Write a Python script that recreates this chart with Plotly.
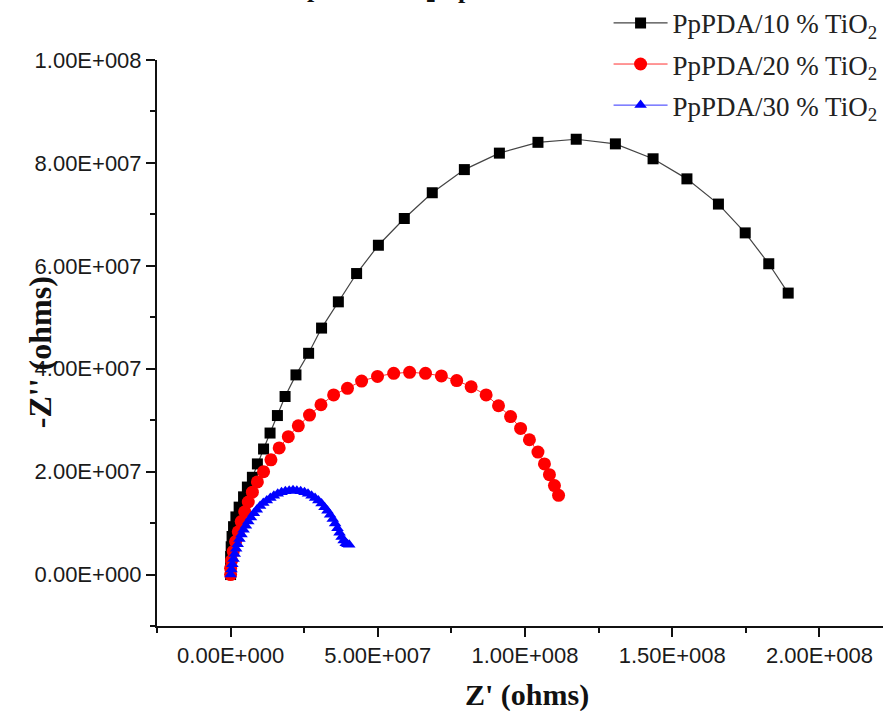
import plotly.graph_objects as go

# ---- data (values in ohms) ----
s10_x = [0.0, 0.0, 0.0, 0.02, 0.05, 0.10, 0.18, 0.29, 0.44, 0.57, 0.74, 0.91, 1.12, 1.34, 1.59,
         1.85, 2.22, 2.65, 3.09, 3.66, 4.28, 5.02, 5.90, 6.85, 7.94, 9.13, 10.44, 11.74,
         13.07, 14.35, 15.50, 16.57, 17.48, 18.28, 18.94]
s10_y = [0.0, 0.17, 0.35, 0.54, 0.74, 0.93, 1.12, 1.31, 1.51, 1.70, 1.89, 2.15, 2.44, 2.75, 3.09,
         3.46, 3.88, 4.30, 4.79, 5.30, 5.85, 6.40, 6.92, 7.42, 7.87, 8.19, 8.40, 8.46,
         8.37, 8.08, 7.69, 7.20, 6.64, 6.04, 5.47]

s20_x = [0.0, 0.0, 0.03, 0.09, 0.17, 0.26, 0.36, 0.48, 0.60, 0.74, 0.91, 1.12, 1.37, 1.65, 1.96,
         2.30, 2.68, 3.07, 3.50, 3.97, 4.45, 4.99, 5.54, 6.08, 6.62, 7.16, 7.68, 8.17, 8.68,
         9.10, 9.51, 9.85, 10.15, 10.44, 10.66, 10.83, 11.00, 11.14]
s20_y = [0.0, 0.12, 0.27, 0.45, 0.64, 0.83, 1.03, 1.22, 1.41, 1.60, 1.80, 2.00, 2.23, 2.46, 2.68,
         2.89, 3.10, 3.30, 3.49, 3.62, 3.76, 3.85, 3.91, 3.93, 3.91, 3.86, 3.77, 3.65, 3.49,
         3.28, 3.07, 2.84, 2.62, 2.38, 2.15, 1.94, 1.73, 1.54]

s30_x = [0.00, 0.03, 0.06, 0.10, 0.14, 0.19, 0.24, 0.30, 0.37, 0.44, 0.52, 0.60, 0.69, 0.79,
         0.89, 1.00, 1.11, 1.23, 1.35, 1.47, 1.60, 1.73, 1.86, 1.99, 2.12, 2.25, 2.38, 2.51,
         2.63, 2.75, 2.87, 2.98, 3.09, 3.19, 3.29, 3.38, 3.47, 3.55, 3.63, 3.70, 3.77, 3.84,
         3.91, 3.97, 4.03]
s30_y = [0.00, 0.10, 0.20, 0.30, 0.40, 0.50, 0.59, 0.69, 0.78, 0.87, 0.95, 1.03, 1.11, 1.19,
         1.26, 1.33, 1.39, 1.44, 1.49, 1.53, 1.57, 1.60, 1.62, 1.63, 1.64, 1.63, 1.62, 1.60,
         1.57, 1.53, 1.49, 1.44, 1.38, 1.31, 1.24, 1.16, 1.08, 0.99, 0.90, 0.81, 0.73, 0.66,
         0.61, 0.59, 0.58]

UNIT = 1e7  # values above are in units of 1E+007 ohms

x_tickvals = [0, 5e7, 1e8, 1.5e8, 2e8]
x_ticktext = ["0.00E+000", "5.00E+007", "1.00E+008", "1.50E+008", "2.00E+008"]
y_tickvals = [0, 2e7, 4e7, 6e7, 8e7, 1e8]
y_ticktext = ["0.00E+000", "2.00E+007", "4.00E+007", "6.00E+007", "8.00E+007", "1.00E+008"]

names = ["PpPDA/10 % TiO<sub>2</sub>", "PpPDA/20 % TiO<sub>2</sub>", "PpPDA/30 % TiO<sub>2</sub>"]

fig = go.Figure()
fig.add_trace(go.Scatter(
    x=[v * UNIT for v in s10_x], y=[v * UNIT for v in s10_y], name=names[0],
    mode="lines+markers", legendgroup="a",
    line=dict(color="#444444", width=1.2),
    marker=dict(symbol="square", size=11, color="#000000", line=dict(width=0))))
fig.add_trace(go.Scatter(
    x=[v * UNIT for v in s20_x], y=[v * UNIT for v in s20_y], name=names[1],
    mode="lines+markers", legendgroup="b",
    line=dict(color="#ff3030", width=1),
    marker=dict(symbol="circle", size=13, color="#ff0000", line=dict(width=0))))
fig.add_trace(go.Scatter(
    x=[v * UNIT for v in s30_x], y=[v * UNIT for v in s30_y], name=names[2],
    mode="lines+markers", legendgroup="c",
    line=dict(color="#3030ff", width=1),
    marker=dict(symbol="triangle-up", size=11, color="#0000ff", line=dict(width=0))))

tickfont = dict(family="Liberation Sans, Arial", size=22, color="#1a1a1a")

fig.update_layout(
    width=883, height=711,
    margin=dict(l=157, r=0, t=60, b=85, autoexpand=False),
    paper_bgcolor="white", plot_bgcolor="white",
    showlegend=True,
    legend=dict(x=0.622, y=1.108, xanchor="left", yanchor="top",
                font=dict(family="Liberation Serif, Times New Roman", size=27, color="#222222"),
                bgcolor="rgba(0,0,0,0)", tracegroupgap=3, itemwidth=54),
    xaxis=dict(range=[-2.5e7, 2.216e8], showline=True, linecolor="#111111", linewidth=2,
               showgrid=False, zeroline=False, ticks="outside", ticklen=9, tickwidth=2,
               tickcolor="#111111", tickvals=x_tickvals, ticktext=x_ticktext, tickfont=tickfont,
               minor=dict(ticks="outside", ticklen=5, tickwidth=2, tickcolor="#111111",
                          dtick=2.5e7, tick0=0, showgrid=False)),
    yaxis=dict(range=[-1e7, 1e8], showline=True, linecolor="#111111", linewidth=2,
               showgrid=False, zeroline=False, ticks="outside", ticklen=9, tickwidth=2,
               tickcolor="#111111", tickvals=y_tickvals, ticktext=y_ticktext, tickfont=tickfont,
               minor=dict(ticks="outside", ticklen=5, tickwidth=2, tickcolor="#111111",
                          dtick=1e7, tick0=0, showgrid=False)),
    annotations=[
        dict(text="<b>Z' (ohms)</b>", xref="paper", yref="paper", x=0.5096, y=-0.122,
             xanchor="center", yanchor="middle", showarrow=False,
             font=dict(family="Liberation Serif, Times New Roman", size=30, color="#111111")),
        dict(text="<b>-Z'' (ohms)</b>", xref="paper", yref="paper", x=-0.161, y=0.484,
             xanchor="center", yanchor="middle", showarrow=False, textangle=-90,
             font=dict(family="Liberation Serif, Times New Roman", size=32, color="#111111")),
        dict(text="<b>PpPDA/TiO<sub>2</sub></b>", xref="paper", yref="paper", x=0.386, y=1.124,
             xanchor="right", yanchor="middle", showarrow=False,
             font=dict(family="Liberation Serif, Times New Roman", size=26, color="#111111")),
        dict(text="<b>spectra</b>", xref="paper", yref="paper", x=0.398, y=1.124,
             xanchor="left", yanchor="middle", showarrow=False,
             font=dict(family="Liberation Serif, Times New Roman", size=26, color="#111111")),
    ],
)

fig.write_html("out.html")
